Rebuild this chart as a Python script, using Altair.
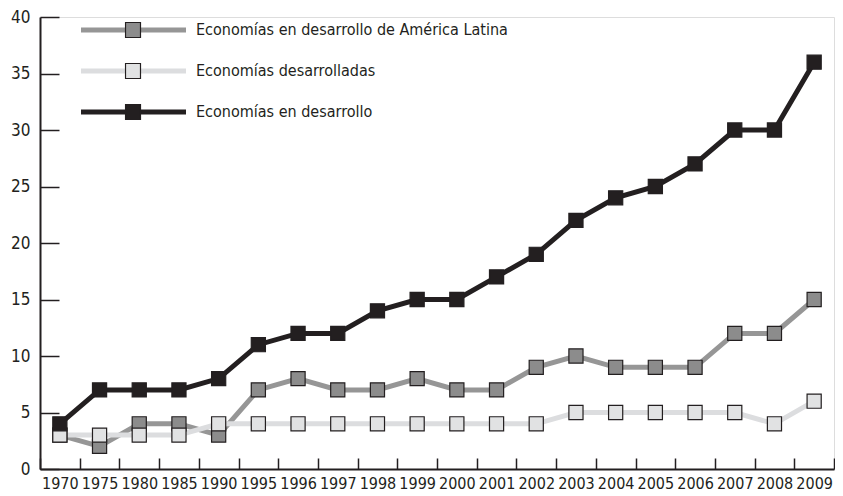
import altair as alt
import pandas as pd

anios = ["1970", "1975", "1980", "1985", "1990", "1995", "1996", "1997", "1998", "1999",
         "2000", "2001", "2002", "2003", "2004", "2005", "2006", "2007", "2008", "2009"]
series = ["Economías en desarrollo de América Latina", "Economías desarrolladas", "Economías en desarrollo"]
latam = [3, 2, 4, 4, 3, 7, 8, 7, 7, 8, 7, 7, 9, 10, 9, 9, 9, 12, 12, 15]
desarrolladas = [3, 3, 3, 3, 4, 4, 4, 4, 4, 4, 4, 4, 4, 5, 5, 5, 5, 5, 4, 6]
desarrollo = [4, 7, 7, 7, 8, 11, 12, 12, 14, 15, 15, 17, 19, 22, 24, 25, 27, 30, 30, 36]
y_ticks = [0, 5, 10, 15, 20, 25, 30, 35, 40]

colores_linea = ["#969696", "#dcdddf", "#231f20"]
colores_marca = ["#8c8c8c", "#e1e2e3", "#231f20"]
negro = "#231f20"
fuente = "'DejaVu Sans Condensed', 'Liberation Sans Narrow', sans-serif"

rows = []
for s, vals in zip(series, [latam, desarrolladas, desarrollo]):
    for a, v in zip(anios, vals):
        rows.append({"anio": a, "valor": v, "serie_linea": s, "serie_marca": s})
df = pd.DataFrame(rows)

x = alt.X("anio:N", sort=anios,
          scale=alt.Scale(type="band", paddingInner=0, paddingOuter=0),
          axis=alt.Axis(title=None, labelAngle=0, tickBand="extent",
                        tickSize={"expr": "-11"}, labelPadding=17,
                        labelFontSize=16, labelFont=fuente, labelColor=negro,
                        domainColor=negro, domainWidth=2, tickColor=negro, tickWidth=1.5))
y = alt.Y("valor:Q",
          scale=alt.Scale(domain=[0, 40], nice=False),
          axis=alt.Axis(title=None, values=y_ticks, tickSize={"expr": "-19"}, labelPadding=29,
                        labelFontSize=17, labelFont=fuente, labelColor=negro,
                        domainColor=negro, domainWidth=2, tickColor=negro, tickWidth=1.5,
                        grid=False))

lineas = alt.Chart(df).mark_line(strokeWidth=5).encode(
    x=x, y=y,
    stroke=alt.Stroke("serie_linea:N", sort=series,
                      scale=alt.Scale(range=colores_linea),
                      legend=alt.Legend(orient="none", legendX=38.5, legendY=-7.5, title=None,
                                        symbolType="stroke", symbolSize=11025, symbolStrokeWidth=5,
                                        labelExpr="''", clipHeight=41, rowPadding=0, padding=0)),
)

marcas = alt.Chart(df).mark_square(size=200, opacity=1, stroke=negro, strokeWidth=1.2).encode(
    x=x, y=y,
    fill=alt.Fill("serie_marca:N", sort=series,
                  scale=alt.Scale(range=colores_marca),
                  legend=alt.Legend(orient="none", legendX=84.5, legendY=-7.5, title=None,
                                    symbolType="square", symbolSize=225,
                                    symbolStrokeColor=negro, symbolStrokeWidth=1.2,
                                    clipHeight=41, rowPadding=0, padding=0, labelOffset=54.5,
                                    labelFontSize=16, labelFont=fuente, labelColor=negro,
                                    labelLimit=500)),
)

chart = alt.layer(lineas, marcas).resolve_scale(
    stroke="independent", fill="independent"
).properties(
    width=794, height=452,
    padding={"left": 2, "top": 0, "right": 0, "bottom": 0},
).configure_view(strokeWidth=0).configure(font=fuente)

chart.save("out.html", embed_options={"renderer": "svg", "actions": False})
